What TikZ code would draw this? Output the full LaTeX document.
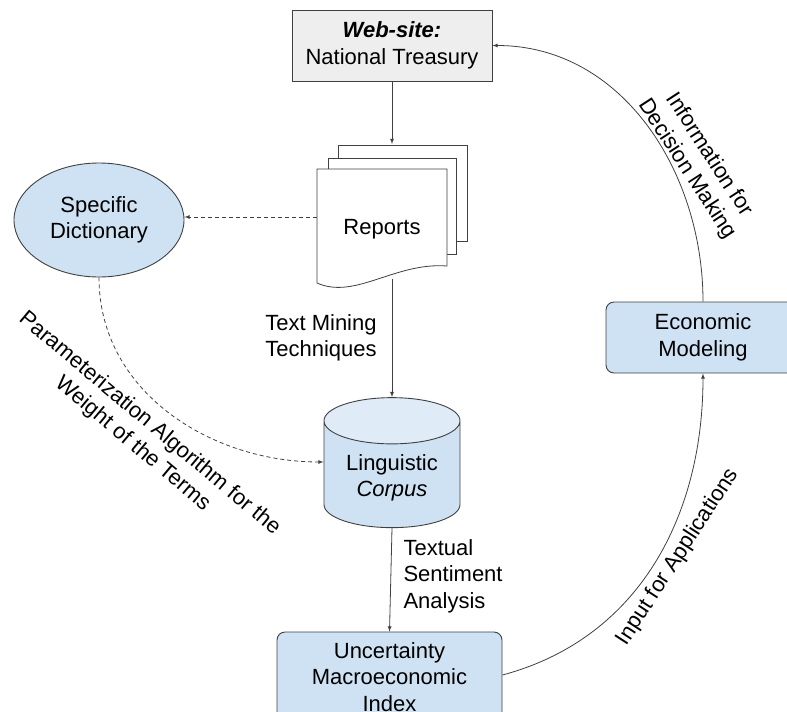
\documentclass[tikz,border=0pt]{standalone}
\usepackage{fontspec}
\setmainfont{Liberation Sans}
\usetikzlibrary{shapes.geometric}
\definecolor{boxblue}{HTML}{CFE2F3}
\definecolor{topblue}{HTML}{DFEBF7}
\definecolor{boxgray}{HTML}{EEEEEE}
\definecolor{linegray}{HTML}{404040}

\begin{document}
\begin{tikzpicture}[x=1pt,y=-1pt,
    every node/.style={font=\fontsize{22}{26.5}\selectfont},
    blockbox/.style={draw=linegray,line width=0.9pt,fill=boxblue,rounded corners=8pt,align=center},
    conn/.style={draw=linegray,line width=0.8pt,-latex},
    dconn/.style={conn,dash pattern=on 4pt off 3pt}]
  \useasboundingbox (0,0) rectangle (787,712);
  % source
  \node[draw=linegray,line width=0.9pt,fill=boxgray,minimum width=200pt,minimum height=71pt,align=center] (web) at (392,45.5) {\textbf{\textit{Web-site:}}\\National Treasury};
  % stack of reports
  \draw[linegray,line width=0.8pt,fill=white] (338,241) -- (338,145) -- (467,145) -- (467,241) -- cycle;
  \draw[linegray,line width=0.8pt,fill=white] (328,254) -- (328,158) -- (456,158) -- (456,254) -- cycle;
  \draw[linegray,line width=0.8pt,fill=white] (317,283) -- (317,169) -- (447,169) -- (447,266) .. controls (395,262) and (355,300) .. (317,283) -- cycle;
  \node[minimum width=130pt,minimum height=114pt] (rep) at (382,229) {Reports};
  \coordinate (stacktop) at (392,144);
  \coordinate (repout) at (392,279);
  \draw[conn] (web.south) -- (stacktop);
  % dictionary and corpus
  \node[ellipse,draw=linegray,line width=0.9pt,fill=boxblue,minimum width=170pt,minimum height=114pt,align=center] (dict) at (99,220) {Specific\\Dictionary};
  \node[cylinder,shape border rotate=90,aspect=0.47,draw=linegray,line width=0.9pt,
        cylinder uses custom fill,cylinder body fill=boxblue,cylinder end fill=topblue,
        minimum width=136pt,minimum height=130pt,align=center] (corp) at (392,478) {Linguistic\\\textit{Corpus}};
  \draw[dconn] ([yshift=12pt]rep.west) -- ([yshift=12pt]rep.west -| dict.east);
  \draw[dconn] (dict.south) to[out=-90,in=180] ([yshift=16pt]corp.west);
  \draw[conn] (repout) -- (corp.north);
  \node[align=left] (tmt) at (321,338) {Text Mining\\Techniques};
  % index and modeling
  \node[blockbox,minimum width=225pt,minimum height=90pt] (umi) at (389.5,677) {Uncertainty\\Macroeconomic\\Index};
  \node[blockbox,minimum width=194pt,minimum height=71pt] (econ) at (703,337.5) {Economic\\Modeling};
  \draw[conn] (corp.south) -- (umi.north);
  \node[anchor=west,align=left] (tsa) at (400,576) {Textual\\Sentiment\\Analysis};
  \draw[conn] ([yshift=2pt]umi.east) to[out=15,in=-90] (econ.south);
  \draw[conn] (econ.north) to[out=90,in=0] (web.east);
  % rotated labels
  \node[rotate=-40,align=center] (param) at (141,434) {Parameterization Algorithm for the\\Weight of the Terms};
  \node[rotate=-57,align=center] (info) at (698,162) {Information for\\Decision Making};
  \node[rotate=57] (input) at (678,557) {Input for Applications};
\end{tikzpicture}
\end{document}
